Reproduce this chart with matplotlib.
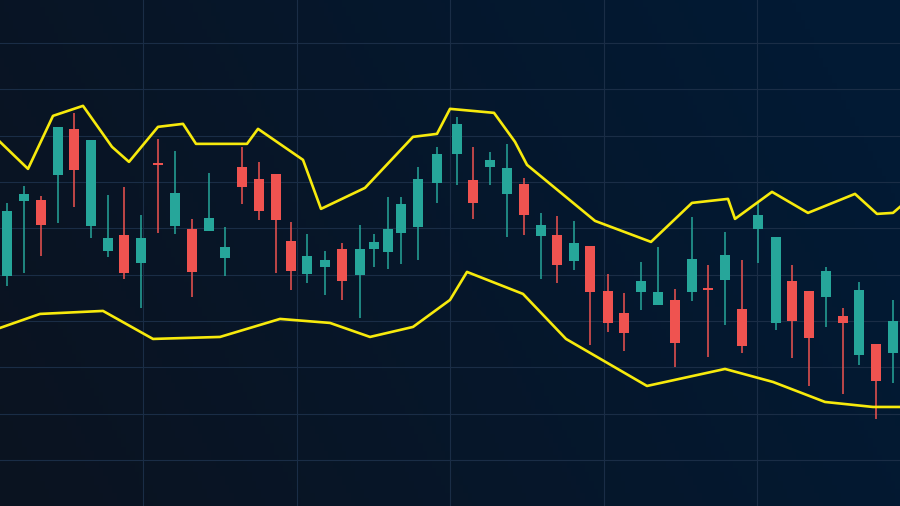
import numpy as np
import matplotlib.pyplot as plt

# candle times (bar positions) and OHLC prices
t = [7, 24, 41, 58, 74, 91, 108, 124, 141, 158, 175, 192, 209, 225, 242, 259, 276, 291,
     307, 325, 342, 360, 374, 388, 401, 418, 437, 457, 473, 490, 507, 524, 541, 557, 574,
     590, 608, 624, 641, 658, 675, 692, 708, 725, 742, 758, 776, 792, 809, 826, 843, 859,
     876, 893]
opn = [23.0, 30.5, 30.6, 33.1, 37.7, 28.0, 25.5, 27.1, 24.3, 34.3, 28.0, 27.7, 27.5, 24.8,
       33.9, 32.7, 33.2, 26.5, 23.2, 23.9, 25.7, 23.1, 25.7, 25.4, 27.3, 27.9, 32.3, 35.2,
       32.6, 33.9, 31.2, 32.2, 27.0, 27.1, 24.5, 26.0, 21.5, 19.3, 21.4, 20.1, 20.6, 21.4,
       21.8, 22.6, 19.7, 27.7, 18.3, 22.5, 21.5, 20.9, 19.0, 15.1, 16.2, 15.3]
high = [30.3, 32.0, 31.0, 37.9, 39.3, 36.6, 31.1, 31.9, 29.1, 36.7, 35.5, 28.7, 33.3, 27.9,
        35.9, 34.4, 33.2, 28.4, 27.2, 25.5, 26.3, 28.1, 27.2, 30.9, 30.9, 33.9, 35.9, 38.9,
        35.9, 35.4, 36.2, 32.8, 29.3, 29.0, 28.5, 26.0, 23.2, 21.3, 24.4, 25.9, 21.7, 28.9,
        24.1, 27.4, 24.6, 30.3, 26.9, 24.1, 21.5, 23.9, 19.8, 22.4, 16.2, 20.6]
low = [22.0, 23.3, 25.0, 28.3, 29.9, 26.8, 24.9, 22.7, 19.8, 27.3, 27.2, 20.9, 27.5, 23.0,
       30.2, 28.6, 23.3, 21.6, 22.3, 21.1, 20.6, 18.8, 23.9, 23.7, 24.2, 24.6, 30.3, 32.1,
       28.7, 32.1, 26.9, 27.1, 22.7, 22.3, 23.6, 16.1, 17.4, 15.5, 19.6, 20.1, 13.9, 20.5,
       14.9, 18.1, 15.3, 24.3, 17.6, 14.8, 12.0, 17.9, 11.2, 14.1, 8.7, 12.3]
close = [29.5, 31.2, 28.1, 37.9, 33.6, 36.6, 26.8, 23.3, 26.8, 34.1, 31.3, 23.4, 28.8, 25.9,
         31.9, 29.5, 28.6, 23.5, 25.0, 24.6, 22.5, 25.7, 26.4, 27.7, 30.2, 32.7, 35.2, 38.2,
         30.3, 34.6, 33.8, 29.1, 28.1, 24.1, 26.3, 21.4, 18.3, 17.3, 22.5, 21.4, 16.3, 24.7,
         21.6, 25.1, 16.0, 29.1, 26.9, 18.5, 16.8, 23.5, 18.3, 21.6, 12.5, 18.5]

# envelope lines
upper_t = [0, 28, 53, 83, 112, 129, 158, 183, 196, 247, 258, 303, 321, 365, 413, 437, 450,
           494, 515, 527, 595, 651, 692, 728, 735, 772, 808, 855, 877, 893, 900]
upper = [36.4, 33.7, 39.0, 40.0, 35.9, 34.4, 37.9, 38.2, 36.2, 36.2, 37.7, 34.6, 29.7, 31.8,
         36.9, 37.2, 39.7, 39.3, 36.4, 34.1, 28.5, 26.4, 30.3, 30.7, 28.7, 31.4, 29.3, 31.2,
         29.2, 29.3, 29.9]
lower_t = [0, 40, 103, 153, 220, 280, 330, 370, 413, 450, 467, 523, 566, 647, 725, 773, 825,
           873, 900]
lower = [17.8, 19.2, 19.5, 16.7, 16.9, 18.7, 18.3, 16.9, 17.9, 20.6, 23.4, 21.2, 16.7, 12.0,
         13.7, 12.4, 10.4, 9.9, 9.9]

UP = "#26a69a"
DOWN = "#ef5350"
YELLOW = "#f7ea0c"

fig = plt.figure(figsize=(9, 5.062), dpi=100)
ax = fig.add_axes([0, 0, 1, 1])

# dark navy gradient background
gx, gy = np.meshgrid(np.linspace(0, 1, 200), np.linspace(0, 1, 120))
left = np.array([0x0b, 0x13, 0x20]) / 255
right = np.array([0x02, 0x1a, 0x34]) / 255
mix = np.clip(gx * 0.85 + (1 - gy) * 0.25, 0, 1)[..., None]
bg = left * (1 - mix) + right * mix
ax.imshow(bg, extent=[0, 900, 0, 50.6], aspect="auto", zorder=0, origin="upper")

ax.set_xlim(0, 900)
ax.set_ylim(0, 50.6)
ax.set_xticks(np.arange(143, 900, 153.5))
ax.set_yticks(4.6 + 4.63 * np.arange(10))
ax.grid(True, color="#1a2d46", linewidth=0.8, zorder=1)
ax.tick_params(length=0, labelbottom=False, labelleft=False)
for s in ax.spines.values():
    s.set_visible(False)

t = np.array(t)
opn = np.array(opn)
close = np.array(close)
cols = np.where(close >= opn, UP, DOWN)

ax.vlines(t, low, high, colors=cols, linewidth=1.1, zorder=2)
height = np.abs(close - opn)
height = np.maximum(height, 0.2)
ax.bar(t, height, bottom=np.minimum(opn, close), width=9.5, color=cols, zorder=3)

ax.plot(upper_t, upper, color=YELLOW, linewidth=1.9, zorder=4)
ax.plot(lower_t, lower, color=YELLOW, linewidth=1.9, zorder=4)

fig.savefig("out.png", dpi=100)
